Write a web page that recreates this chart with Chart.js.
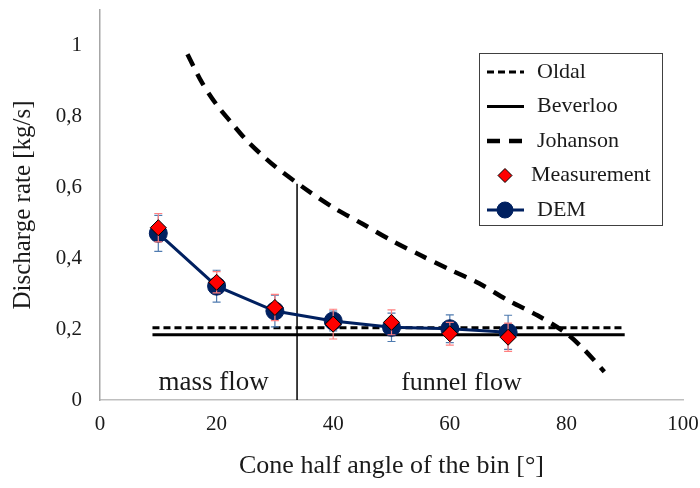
<!DOCTYPE html>
<html>
<head>
<meta charset="utf-8">
<script src="https://cdn.jsdelivr.net/npm/chart.js@4"></script>
<style>
  html, body { margin: 0; padding: 0; background: #fff; }
  #wrap { width: 700px; height: 488px; }
</style>
</head>
<body>
<div id="wrap"><canvas id="myChart" width="700" height="488"></canvas></div>
<script>
// measured + simulated discharge rates
const angles = [10, 20, 30, 40, 50, 60, 70];
const demRate = [0.470, 0.321, 0.251, 0.223, 0.205, 0.201, 0.191];
const demErr = [0.051, 0.045, 0.045, 0.028, 0.040, 0.039, 0.048];
const measRate = [0.486, 0.332, 0.261, 0.214, 0.219, 0.187, 0.177];
const measErr = [0.040, 0.030, 0.037, 0.042, 0.035, 0.032, 0.040];

// analytical models
const oldalRate = 0.204;
const beverlooRate = 0.184;
const modelRange = [9, 90];
const johansonAngle = [15, 17.5, 20, 22.5, 25, 27.5, 30, 35, 40, 45, 50, 55, 60, 65, 70, 75, 80, 83, 86.5];
const johansonRate = [0.975, 0.895, 0.833, 0.783, 0.735, 0.695, 0.659, 0.598, 0.543, 0.497, 0.450, 0.408, 0.368, 0.329, 0.281, 0.239, 0.188, 0.143, 0.080];

// mass / funnel flow border
const borderAngle = 33.8;
const borderTop = 0.61;

const xTicks = [0, 20, 40, 60, 80, 100];
const yTicks = [0, 0.2, 0.4, 0.6, 0.8, 1];

const FONT = "'Liberation Serif', 'Times New Roman', serif";
const TXT = '#1a1a1a';

const pts = (xs, ys) => xs.map((x, i) => ({ x: x, y: ys[i] }));

const errorBars = {
  id: 'errorBars',
  beforeDatasetDraw(chart, args) {
    const ds = chart.data.datasets[args.index];
    if (!ds.errors) return;
    const xs = chart.scales.x, ys = chart.scales.y;
    const ctx = chart.ctx;
    ctx.save();
    ctx.strokeStyle = ds.errColor;
    ctx.lineWidth = 1.2;
    ds.data.forEach((p, i) => {
      const px = xs.getPixelForValue(p.x);
      const top = ys.getPixelForValue(p.y + ds.errors[i]);
      const bot = ys.getPixelForValue(p.y - ds.errors[i]);
      ctx.beginPath();
      ctx.moveTo(px, top); ctx.lineTo(px, bot);
      ctx.moveTo(px - 4, top); ctx.lineTo(px + 4, top);
      ctx.moveTo(px - 4, bot); ctx.lineTo(px + 4, bot);
      ctx.stroke();
    });
    ctx.restore();
  }
};

const annotations = {
  id: 'annotations',
  afterDatasetsDraw(chart) {
    const ctx = chart.ctx;
    const xs = chart.scales.x, ys = chart.scales.y;
    ctx.save();
    ctx.font = '27px ' + FONT;
    ctx.fillStyle = TXT;
    ctx.textAlign = 'center';
    ctx.textBaseline = 'middle';
    ctx.fillText('mass flow', xs.getPixelForValue(19.5), ys.getPixelForValue(0.047));
    ctx.font = '26px ' + FONT;
    ctx.fillText('funnel flow', xs.getPixelForValue(62), ys.getPixelForValue(0.047));
    ctx.restore();
  }
};

// legend box drawn inside the plot, like the excel one
const boxLegend = {
  id: 'boxLegend',
  afterDraw(chart) {
    const ctx = chart.ctx;
    const left = 479, top = 53, w = 183, h = 172;
    ctx.save();
    ctx.fillStyle = '#fff';
    ctx.fillRect(left, top, w, h);
    ctx.strokeStyle = '#404040';
    ctx.lineWidth = 1;
    ctx.strokeRect(left + 0.5, top + 0.5, w, h);
    ctx.font = '22px ' + FONT;
    ctx.textBaseline = 'middle';
    const items = chart.data.datasets.filter(d => d.inLegend);
    items.forEach((ds, i) => {
      const y = top + 19 + i * 34.5;
      const cx = left + 26;
      if (ds.showLine !== false) {
        ctx.save();
        ctx.strokeStyle = ds.borderColor;
        ctx.lineWidth = ds.borderWidth;
        ctx.setLineDash(ds.borderDash || []);
        ctx.beginPath();
        ctx.moveTo(left + 8, y);
        ctx.lineTo(left + 45, y);
        ctx.stroke();
        ctx.restore();
      }
      if (ds.pointRadius > 0) {
        const r = ds.legendRadius;
        ctx.fillStyle = ds.pointBackgroundColor;
        ctx.strokeStyle = ds.pointBorderColor;
        ctx.lineWidth = ds.pointBorderWidth || 1;
        ctx.beginPath();
        if (ds.pointStyle === 'rectRot') {
          ctx.moveTo(cx, y - r); ctx.lineTo(cx + r, y);
          ctx.lineTo(cx, y + r); ctx.lineTo(cx - r, y);
          ctx.closePath();
        } else {
          ctx.arc(cx, y, r, 0, Math.PI * 2);
        }
        ctx.fill();
        ctx.stroke();
      }
      ctx.fillStyle = TXT;
      ctx.fillText(ds.label, ds.showLine === false ? left + 52 : left + 58, y);
    });
    ctx.restore();
  }
};

const ctx = document.getElementById('myChart').getContext('2d');
const myChart = new Chart(ctx, {
  type: 'line',
  data: {
    datasets: [
      {
        label: 'Oldal', inLegend: true, order: 4,
        data: pts(modelRange, [oldalRate, oldalRate]),
        borderColor: '#000', borderWidth: 3, borderDash: [7, 4],
        pointRadius: 0
      },
      {
        label: 'Beverloo', inLegend: true, order: 5,
        data: pts(modelRange, [beverlooRate, beverlooRate]),
        borderColor: '#000', borderWidth: 3,
        pointRadius: 0
      },
      {
        label: 'Johanson', inLegend: true, order: 3,
        data: pts(johansonAngle, johansonRate),
        borderColor: '#000', borderWidth: 4.5, borderDash: [13, 9],
        pointRadius: 0, tension: 0.3
      },
      {
        label: 'Measurement', inLegend: true, order: 0,
        data: pts(angles, measRate),
        errors: measErr, errColor: '#ff8080',
        showLine: false,
        pointStyle: 'rectRot', pointRadius: 8, legendRadius: 7,
        pointBackgroundColor: '#ff0000', pointBorderColor: '#000', pointBorderWidth: 1
      },
      {
        label: 'DEM', inLegend: true, order: 1,
        data: pts(angles, demRate),
        errors: demErr, errColor: '#4f7bb0',
        borderColor: '#002060', borderWidth: 3,
        pointStyle: 'circle', pointRadius: 9, legendRadius: 8,
        pointBackgroundColor: '#002060', pointBorderColor: '#002060', pointBorderWidth: 1
      },
      {
        label: 'border', inLegend: false, order: 6,
        data: pts([borderAngle, borderAngle], [0, borderTop]),
        borderColor: '#000', borderWidth: 1.5, pointRadius: 0
      }
    ]
  },
  options: {
    responsive: false,
    animation: false,
    events: [],
    layout: { padding: { left: 0, right: 17, top: 6, bottom: 0 } },
    plugins: {
      legend: { display: false },
      tooltip: { enabled: false }
    },
    scales: {
      x: {
        type: 'linear', min: 0, max: 100,
        afterBuildTicks: (s) => { s.ticks = xTicks.map(v => ({ value: v })); },
        afterFit: (s) => { s.height = 88; s.paddingLeft = 0; s.paddingRight = 0; },
        grid: { display: false, drawTicks: false },
        border: { display: true, color: '#bfbfbf', width: 1.5 },
        ticks: { padding: 12, color: TXT, font: { family: FONT, size: 21 } },
        title: {
          display: true, text: 'Cone half angle of the bin [°]', color: TXT,
          font: { family: FONT, size: 26 }, padding: { top: 0, bottom: 6 }
        }
      },
      y: {
        type: 'linear', min: 0, max: 1.1,
        afterBuildTicks: (s) => { s.ticks = yTicks.map(v => ({ value: v })); },
        afterFit: (s) => { s.width = 100; s.paddingTop = 0; s.paddingBottom = 0; },
        grid: { display: false, drawTicks: false },
        border: { display: true, color: '#a6a6a6', width: 1.5 },
        ticks: {
          padding: 18, color: TXT, font: { family: FONT, size: 21 },
          callback: (v) => String(+v.toFixed(1)).replace('.', ',')
        },
        title: {
          display: true, text: 'Discharge rate [kg/s]', color: TXT,
          font: { family: FONT, size: 25 }, padding: { top: 8, bottom: 0 }
        }
      }
    }
  },
  plugins: [errorBars, annotations, boxLegend]
});
</script>
</body>
</html>
